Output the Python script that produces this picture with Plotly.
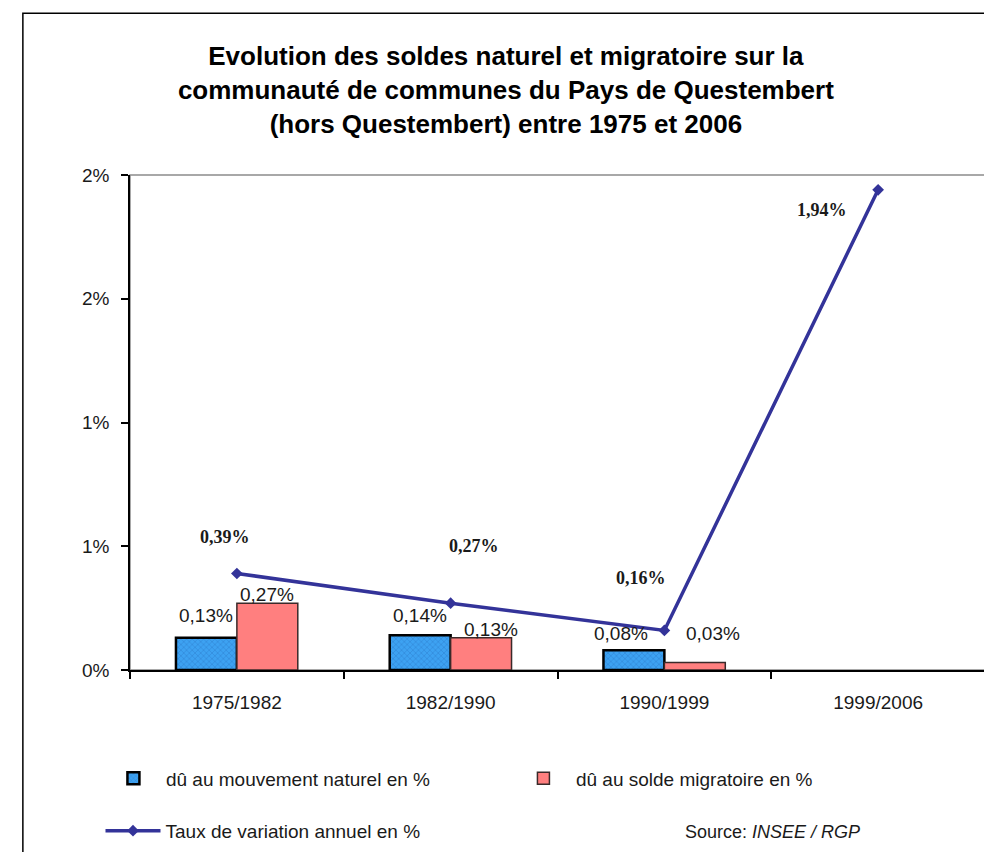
import plotly.graph_objects as go

# ---- data ----
periods = ["1975/1982", "1982/1990", "1990/1999", "1999/2006"]
naturel = [0.13, 0.14, 0.08, None]
migratoire = [0.27, 0.13, 0.03, None]
taux = [0.39, 0.27, 0.16, 1.94]
y_tickvals = [0, 0.5, 1.0, 1.5, 2.0]
y_ticktext = ["0%", "1%", "1%", "2%", "2%"]

def fr(v):
    return f"{v:.2f}".replace(".", ",") + "%"

SANS = "Liberation Sans, Arial, sans-serif"
SERIF = "Liberation Serif, Times New Roman, serif"

fig = go.Figure()
fig.add_trace(go.Bar(
    x=periods, y=naturel, name="dû au mouvement naturel en %",
    marker=dict(color="#3DA2F2", line=dict(color="#000000", width=2.5),
                pattern=dict(shape="x", fgcolor="#1F64B0", size=4, solidity=0.25, fillmode="overlay")),
    legend="legend",
))
fig.add_trace(go.Bar(
    x=periods, y=migratoire, name="dû au solde migratoire en %",
    marker=dict(color="#FF7F7F", line=dict(color="#3a2a2a", width=1.5)),
    legend="legend",
))
fig.add_trace(go.Scatter(
    x=periods, y=taux, name="Taux de variation annuel en %",
    mode="lines+markers",
    line=dict(color="#333399", width=3.5),
    marker=dict(symbol="diamond", size=9, color="#333399"),
    legend="legend2",
))

# label nudges (pixels) - styling only
bar_off = 30.5
nat_nudge = [(0, 10), (0, 7), (-13, 4), (0, 0)]
mig_nudge = [(0, -4), (10, -4), (18, 17), (0, 0)]
line_nudge = [(-12, 36), (23, 57), (-23, 52), (-56, -20)]

ann = []
for i, p in enumerate(periods):
    if naturel[i] is not None:
        dx, dy = nat_nudge[i]
        ann.append(dict(x=p, y=naturel[i], text=fr(naturel[i]), showarrow=False,
                        xshift=-bar_off + dx, yshift=dy, yanchor="bottom",
                        font=dict(family=SANS, size=19, color="#1a1a1a")))
    if migratoire[i] is not None:
        dx, dy = mig_nudge[i]
        ann.append(dict(x=p, y=migratoire[i], text=fr(migratoire[i]), showarrow=False,
                        xshift=bar_off + dx, yshift=dy, yanchor="bottom",
                        font=dict(family=SANS, size=19, color="#1a1a1a")))
    dx, dy = line_nudge[i]
    ann.append(dict(x=p, y=taux[i], text="<b>" + fr(taux[i]) + "</b>", showarrow=False,
                    xshift=dx, yshift=dy, yanchor="middle",
                    font=dict(family=SERIF, size=18, color="#1a1a1a")))

ann.append(dict(xref="paper", yref="paper", x=0.751, y=-0.327, xanchor="center", yanchor="middle",
                text="Source: <i>INSEE / RGP</i>", showarrow=False,
                font=dict(family=SANS, size=18, color="#1a1a1a")))

fig.update_layout(
    width=984, height=844,
    margin=dict(l=122, r=7, t=167, b=182, autoexpand=False),
    paper_bgcolor="white", plot_bgcolor="white",
    barmode="group", bargap=0.43, bargroupgap=0,
    title=dict(text="<b>Evolution des soldes naturel et migratoire sur la<br>communauté de communes du Pays de Questembert<br>(hors Questembert) entre 1975 et 2006</b>",
               x=0.506, xanchor="center", y=0.932, yanchor="top", yref="container",
               font=dict(family=SANS, size=26, color="#000000")),
    font=dict(family=SANS, size=19, color="#1a1a1a"),
    xaxis=dict(showline=True, linecolor="#000000", linewidth=1.5, ticks="outside",
               tickson="boundaries", ticklen=7, tickcolor="#000000", tickwidth=1.5,
               showgrid=False, tickfont=dict(size=19), ticklabelstandoff=14),
    yaxis=dict(range=[0, 2], tickvals=y_tickvals, ticktext=y_ticktext, showline=True,
               linecolor="#000000", linewidth=1.5, ticks="outside", ticklen=7,
               tickcolor="#000000", tickwidth=1.5, showgrid=False, zeroline=False,
               tickfont=dict(size=19), ticklabelstandoff=8),
    legend=dict(orientation="h", x=-0.034, y=-0.219, xanchor="left", yanchor="middle",
                font=dict(family=SANS, size=19), itemwidth=55, entrywidth=340,
                entrywidthmode="pixels", bgcolor="rgba(0,0,0,0)"),
    legend2=dict(orientation="h", x=-0.0345, y=-0.325, xanchor="left", yanchor="middle",
                 font=dict(family=SANS, size=19), itemwidth=55, bgcolor="rgba(0,0,0,0)"),
    annotations=ann,
    shapes=[
        dict(type="rect", xref="paper", yref="paper", x0=0, x1=1, y0=0, y1=1,
             line=dict(color="#8c8c8c", width=1.5), layer="below"),
        dict(type="rect", xref="paper", yref="paper", x0=-0.1253, x1=1.0012, y0=-0.5, y1=1.327,
             line=dict(color="#000000", width=1.5), layer="below"),
    ],
)

fig.write_html("out.html")
